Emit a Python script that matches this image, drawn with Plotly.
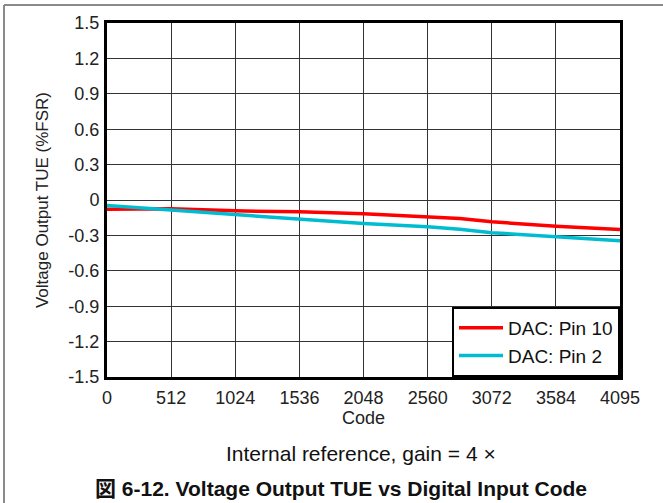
import plotly.graph_objects as go

# Data
codes = [0, 512, 1024, 1536, 2048, 2560, 2816, 3072, 3584, 4095]
tue_pin10 = [-0.078, -0.075, -0.092, -0.100, -0.117, -0.140, -0.157, -0.185, -0.222, -0.250]
tue_pin2 = [-0.047, -0.086, -0.123, -0.160, -0.200, -0.227, -0.247, -0.277, -0.311, -0.345]

x_ticks = [0, 512, 1024, 1536, 2048, 2560, 3072, 3584, 4095]
y_ticks = [1.5, 1.2, 0.9, 0.6, 0.3, 0, -0.3, -0.6, -0.9, -1.2, -1.5]
y_tick_text = ['1.5', '1.2', '0.9', '0.6', '0.3', '0', '-0.3', '-0.6', '-0.9', '-1.2', '-1.5']

FONT = 'Liberation Sans, Arial, Noto Sans CJK JP, sans-serif'
W, H = 663, 503
L, R, T, B = 107, 43, 23, 126
PW, PH = W - L - R, H - T - B


def px_x(x):
    return (x - L) / PW


def px_y(y):
    return (H - B - y) / PH


fig = go.Figure()
fig.add_trace(go.Scatter(x=codes, y=tue_pin10, mode='lines', name='DAC: Pin 10',
                         line=dict(color='#ff0000', width=3.5)))
fig.add_trace(go.Scatter(x=codes, y=tue_pin2, mode='lines', name='DAC: Pin 2',
                         line=dict(color='#00bcd0', width=3.5)))

fig.update_layout(
    width=W, height=H,
    margin=dict(l=L, r=R, t=T, b=B),
    paper_bgcolor='white', plot_bgcolor='white',
    font=dict(family=FONT, size=18, color='#222222'),
    showlegend=True,
    legend=dict(x=1, y=0, xanchor='right', yanchor='bottom',
                bgcolor='white', bordercolor='black', borderwidth=2,
                font=dict(size=19, color='#111111'),
                itemwidth=44, tracegroupgap=0),
)

fig.update_xaxes(
    range=[0, 4095], tickvals=x_ticks, ticks='', ticklabelstandoff=2,
    showgrid=True, gridcolor='#333333', gridwidth=1, zeroline=False,
    showline=True, linecolor='black', linewidth=3, mirror=True,
    title=dict(text='Code', standoff=1, font=dict(size=18)),
    tickfont=dict(size=18),
)
fig.update_yaxes(
    range=[-1.5, 1.5], tickvals=y_ticks, ticktext=y_tick_text, ticks='', ticklabelstandoff=1,
    showgrid=True, gridcolor='#333333', gridwidth=1, zeroline=False,
    showline=True, linecolor='black', linewidth=3, mirror=True,
    title=dict(text='Voltage Output TUE (%FSR)', standoff=16, font=dict(size=17)),
    tickfont=dict(size=18),
)

# outer figure frame (top and left rules)
fig.add_shape(type='line', xref='paper', yref='paper',
              x0=px_x(4), x1=px_x(663), y0=px_y(5), y1=px_y(5),
              line=dict(color='#8a8a8a', width=2))
fig.add_shape(type='line', xref='paper', yref='paper',
              x0=px_x(4), x1=px_x(4), y0=px_y(5), y1=px_y(503),
              line=dict(color='#8a8a8a', width=2))

fig.add_annotation(text='Internal reference, gain = 4 ×', xref='paper', yref='paper',
                   x=px_x(361), y=px_y(453), xanchor='center', yanchor='middle',
                   showarrow=False, font=dict(size=21, color='#111111'))
fig.add_annotation(text='<b>図 6-12. Voltage Output TUE vs Digital Input Code</b>',
                   xref='paper', yref='paper', x=px_x(341), y=px_y(488),
                   xanchor='center', yanchor='middle', showarrow=False,
                   font=dict(size=21, color='#111111'))

fig.write_html('out.html', config={'displayModeBar': False},
               post_script="document.body.style.margin='0';")
